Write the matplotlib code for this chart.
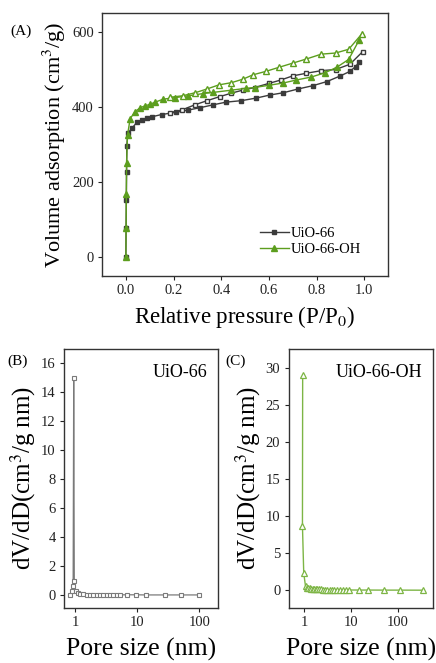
import numpy as np
import matplotlib
matplotlib.use('Agg')
import matplotlib.pyplot as plt

plt.rcParams['font.family'] = ['Liberation Serif', 'DejaVu Serif']
plt.rcParams['mathtext.fontset'] = 'stix'

# (A) N2 isotherms
p_ads_66 = [0.0, 0.001, 0.002, 0.003, 0.004, 0.008, 0.025, 0.046, 0.067, 0.088, 0.109, 0.15,
            0.21, 0.262, 0.31, 0.367, 0.42, 0.485, 0.548, 0.604, 0.66, 0.722, 0.785, 0.844,
            0.90, 0.94, 0.964, 0.98]
v_ads_66 = [0, 77, 152, 227, 296, 330, 343, 359, 365, 370, 374, 380,
            386, 392, 398, 406, 413, 417, 424, 432, 438, 448, 457, 468,
            483, 495, 508, 521]
p_des_66 = [0.994, 0.94, 0.88, 0.82, 0.757, 0.70, 0.65, 0.60, 0.54, 0.49, 0.443, 0.395,
            0.341, 0.29, 0.234, 0.185]
v_des_66 = [548, 514, 500, 497, 490, 483, 472, 463, 452, 445, 437, 428,
            417, 406, 392, 385]

p_ads_oh = [0.0, 0.001, 0.002, 0.003, 0.007, 0.018, 0.039, 0.06, 0.08, 0.10, 0.123, 0.157,
            0.206, 0.262, 0.325, 0.366, 0.443, 0.506, 0.54, 0.60, 0.66, 0.715, 0.778, 0.834,
            0.885, 0.935, 0.98]
v_ads_oh = [0, 78, 169, 252, 325, 369, 388, 398, 403, 407, 413, 421,
            425, 430, 436, 439, 445, 450, 452, 458, 464, 472, 480, 491,
            506, 527, 580]
p_des_oh = [0.99, 0.935, 0.88, 0.82, 0.757, 0.70, 0.643, 0.587, 0.534, 0.49, 0.443, 0.39,
            0.34, 0.29, 0.238, 0.185]
v_des_oh = [595, 554, 544, 541, 528, 517, 506, 495, 486, 474, 465, 459,
            448, 438, 430, 426]

# (B) pore size distribution UiO-66
d_66 = [0.82, 0.90, 0.93, 0.95, 0.97, 1.02, 1.1, 1.2, 1.36, 1.54, 1.75, 1.97, 2.24, 2.53,
        2.86, 3.24, 3.67, 4.15, 4.7, 5.3, 6.8, 9.5, 13.8, 28, 50, 100]
dv_66 = [0.0, 0.28, 0.62, 15.0, 0.97, 0.3, 0.15, 0.07, 0.04, 0.03, 0.03, 0.02, 0.02, 0.02,
         0.02, 0.02, 0.01, 0.01, 0.01, 0.01, 0.01, 0.01, 0.0, 0.0, 0.0, 0.0]

# (C) pore size distribution UiO-66-OH
d_oh = [0.92, 0.91, 0.97, 1.06, 1.15, 1.22, 1.3, 1.4, 1.5, 1.6, 1.75, 1.9, 2.1, 2.3, 2.5, 2.8,
        3.1, 3.5, 3.9, 4.4, 5.0, 5.7, 6.6, 7.8, 9.2, 14.8, 23.5, 51, 112, 350]
dv_oh = [29.0, 8.7, 2.3, 0.5, 0.35, 0.3, 0.25, 0.2, 0.18, 0.16, 0.14, 0.12, 0.1, 0.1, 0.09,
         0.08, 0.07, 0.06, 0.06, 0.05, 0.05, 0.04, 0.04, 0.03, 0.03, 0.02, 0.02, 0.01, 0.01, 0.0]

gray = '#3b3b3b'
green = '#5c9e1e'
gray_b = '#7a7a7a'
green_c = '#7db545'

fig = plt.figure(figsize=(4.36, 6.63), dpi=100)

def style(ax, fs=10.5):
    for s in ax.spines.values():
        s.set_color('#333333')
        s.set_linewidth(1.0)
    ax.tick_params(direction='out', length=3, width=0.8, labelsize=fs, top=False, right=False,
                   colors='#222222', pad=3)

# panel A
ax = fig.add_axes([0.234, 0.584, 0.656, 0.396])
ax.plot(p_ads_66, v_ads_66, '-s', color=gray, ms=3.5, lw=1.0, label='UiO-66')
ax.plot(p_des_66, v_des_66, '-s', color=gray, mfc='white', ms=3.5, lw=1.0)
ax.plot(p_ads_oh, v_ads_oh, '-^', color=green, ms=4.2, lw=1.0, label='UiO-66-OH')
ax.plot(p_des_oh, v_des_oh, '-^', color=green, mfc='white', ms=4.5, lw=1.0)
ax.set_xlim(-0.1, 1.1)
ax.set_ylim(-50, 650)
ax.set_xticks([0.0, 0.2, 0.4, 0.6, 0.8, 1.0])
ax.set_yticks([0, 200, 400, 600])
ax.set_xticklabels(['0.0', '0.2', '0.4', '0.6', '0.8', '1.0'])
style(ax)
ax.set_xlabel('Relative pressure (P/P$_0$)', fontsize=16.5, labelpad=5)
ax.set_ylabel('Volume adsorption (cm$^3$/g)', fontsize=16, labelpad=3)
ax.legend(loc='lower right', bbox_to_anchor=(0.95, 0.025), frameon=False, fontsize=10.5,
          handlelength=2.0, handletextpad=0.1, labelspacing=0.2)
fig.text(0.023, 0.948, '(A)', fontsize=11)

# panel B
ax = fig.add_axes([0.147, 0.083, 0.353, 0.391])
ax.plot(d_66, dv_66, '-s', color=gray_b, mfc='white', ms=3.0, lw=0.9, mew=0.8)
ax.set_xscale('log')
ax.set_xlim(0.665, 200)
ax.set_ylim(-0.9, 17)
ax.set_yticks([0, 2, 4, 6, 8, 10, 12, 14, 16])
ax.set_xticks([1, 10, 100])
ax.set_xticklabels(['1', '10', '100'])
ax.minorticks_off()
style(ax)
ax.set_xlabel('Pore size (nm)', fontsize=18.5, labelpad=6)
ax.set_ylabel('dV/dD(cm$^3$/g nm)', fontsize=18, labelpad=2)
ax.text(0.93, 0.94, 'UiO-66', transform=ax.transAxes, ha='right', va='top', fontsize=13)
fig.text(0.018, 0.449, '(B)', fontsize=11)

# panel C
ax = fig.add_axes([0.662, 0.083, 0.330, 0.391])
ax.plot(d_oh, dv_oh, '-^', color=green_c, mfc='white', ms=4.5, lw=1.0, mew=0.9)
ax.set_xscale('log')
ax.set_xlim(0.46, 560)
ax.set_ylim(-2.4, 32.6)
ax.set_yticks([0, 5, 10, 15, 20, 25, 30])
ax.set_xticks([1, 10, 100])
ax.set_xticklabels(['1', '10', '100'])
ax.minorticks_off()
style(ax)
ax.set_xlabel('Pore size (nm)', fontsize=18.5, labelpad=6)
ax.set_ylabel('dV/dD(cm$^3$/g nm)', fontsize=18, labelpad=2)
ax.text(0.93, 0.94, 'UiO-66-OH', transform=ax.transAxes, ha='right', va='top', fontsize=13)
fig.text(0.516, 0.449, '(C)', fontsize=11)

fig.savefig('out.png', dpi=100)
